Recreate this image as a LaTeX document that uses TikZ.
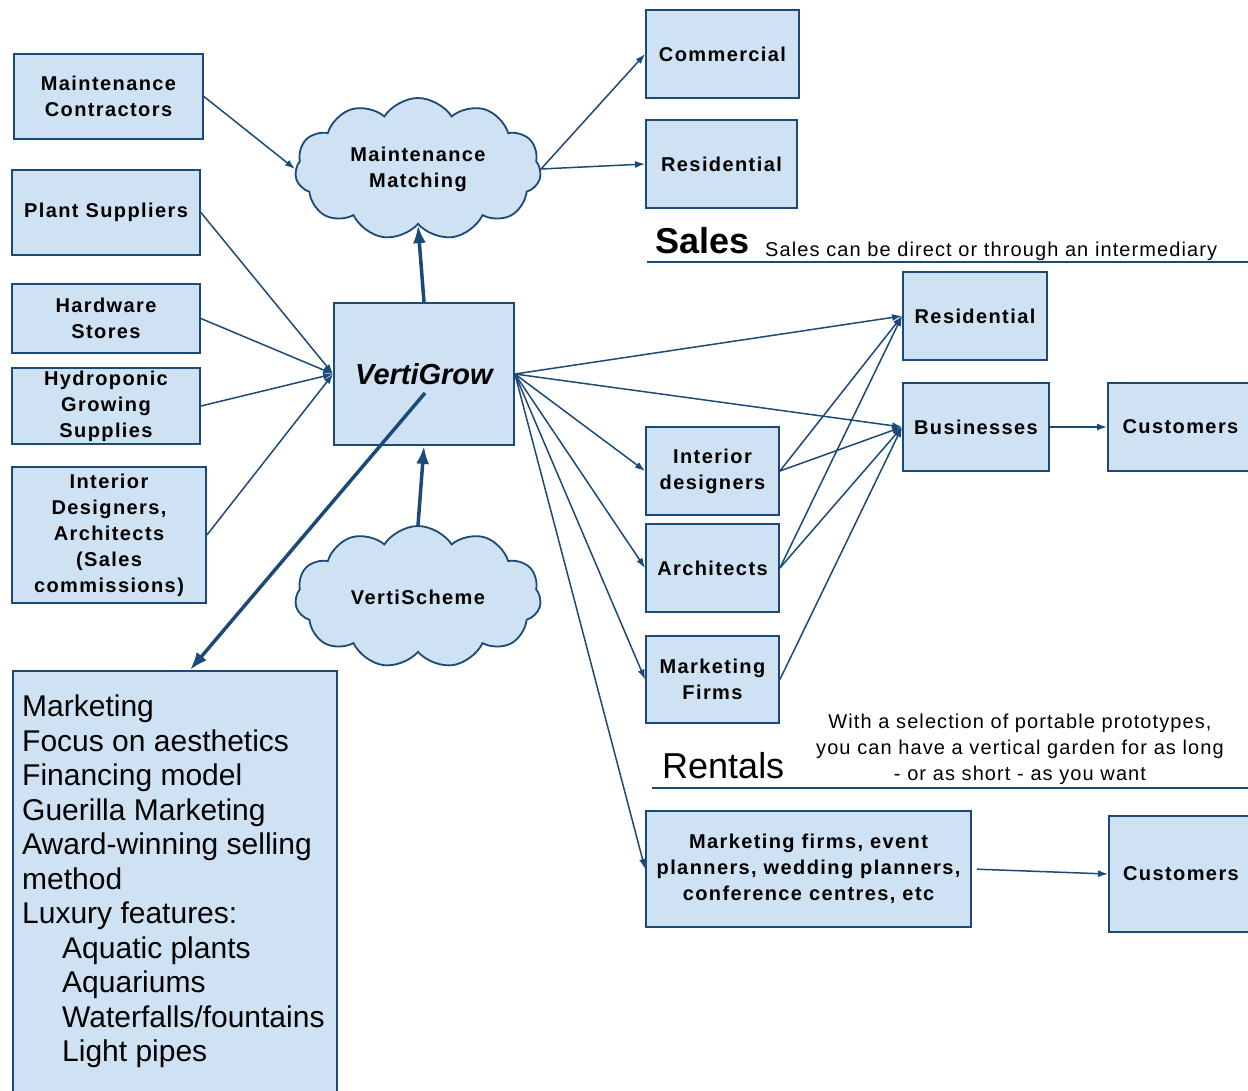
\documentclass[tikz,border=0pt]{standalone}
\usepackage{fontspec}
\setmainfont{Liberation Sans}
\newfontfamily\lblfont{Liberation Sans}[LetterSpace=7]
\newfontfamily\notefont{Liberation Sans}[LetterSpace=5.5]
\usetikzlibrary{shapes.symbols,arrows.meta}
\definecolor{boxfill}{HTML}{CFE2F3}
\definecolor{boxline}{HTML}{1B4A78}
\begin{document}
\begin{tikzpicture}[x=1pt,y=-1pt,
  box/.style={draw=boxline, fill=boxfill, line width=1.8pt, inner sep=0pt, align=center,
    font={\lblfont\bfseries\fontsize{20}{26}\selectfont}},
  bx/.style 2 args={minimum width=#1, minimum height=#2},
  cloudy/.style={cloud, cloud puffs=11, cloud puff arc=115, aspect=1.65, draw=boxline, fill=boxfill,
    line width=1.8pt, inner sep=0pt, align=center, minimum width=246, minimum height=142,
    font={\lblfont\bfseries\fontsize{20}{26}\selectfont}},
  arr/.style={draw=boxline, line width=1.5pt, -{Latex[length=10pt,width=7pt]}},
  thickarr/.style={draw=boxline, line width=3.5pt, -{Latex[length=18pt,width=13pt]}},
  plain/.style={inner sep=0pt, text=black}
]
\useasboundingbox (0,0) rectangle (1248,1090);

% left column
\node[box,bx={189}{85}] (mc) at (108.5,96.5) {Maintenance\\Contractors};
\node[box,bx={188}{85}] (ps) at (106,212.5) {Plant Suppliers};
\node[box,bx={188}{69}] (hw) at (106,318.5) {Hardware\\Stores};
\node[box,bx={188}{76}] (hy) at (106,406) {Hydroponic\\Growing\\Supplies};
\node[box,bx={194}{136}] (idl) at (109,535) {Interior\\Designers,\\Architects\\(Sales\\commissions)};

% centre
\node[box,bx={180}{142},font={\bfseries\itshape\fontsize{29}{34}\selectfont}] (vg) at (424,374) {VertiGrow};
\node[cloudy] (mm) at (418,169) {Maintenance\\Matching};
\node[cloudy] (vs) at (418,597) {VertiScheme};

% maintenance targets
\node[box,bx={153}{88}] (com) at (722.5,54) {Commercial};
\node[box,bx={151}{88}] (res1) at (721.5,164) {Residential};

% sales
\node[plain, anchor=base west, font={\bfseries\fontsize{36}{40}\selectfont}] (sales) at (655,253) {Sales};
\node[plain, anchor=base west, font={\notefont\fontsize{20}{24}\selectfont}] (salesnote) at (765,256) {Sales can be direct or through an intermediary};
\draw[boxline, line width=1.5pt] (647,262) -- (1250,262);

\node[box,bx={144}{88}] (res2) at (975,316) {Residential};
\node[box,bx={146}{88}] (bus) at (976,427) {Businesses};
\node[box,bx={145}{88}] (cus1) at (1180.5,427) {Customers};
\node[box,bx={133}{88}] (idz) at (712.5,471) {Interior\\designers};
\node[box,bx={133}{88}] (arch) at (712.5,568) {Architects};
\node[box,bx={133}{87}] (mf) at (712.5,679.5) {Marketing\\Firms};

% rentals
\node[plain, anchor=base west, font={\fontsize{36}{40}\selectfont}] (rentals) at (662,778) {Rentals};
\node[plain, align=center, font={\notefont\fontsize{20}{26}\selectfont}] (rentnote) at (1020,749)
  {With a selection of portable prototypes,\\you can have a vertical garden for as long\\- or as short - as you want};
\draw[boxline, line width=1.5pt] (652,788) -- (1250,788);
\node[box,bx={325}{116}] (rent) at (808.5,869) {Marketing firms, event\\planners, wedding planners,\\conference centres, etc};
\node[box,bx={144}{116}] (cus2) at (1181,874) {Customers};

% marketing list
\node[box, anchor=north west, bx={324}{430}] (mkt) at (12,670) {};
\node[plain, anchor=north west, align=left, font={\fontsize{30}{34.5}\selectfont}] (mkttxt) at (22,695)
  {Marketing\\Focus on aesthetics\\Financing model\\Guerilla Marketing\\Award-winning selling\\method\\Luxury features:\\
   \hspace*{40pt}Aquatic plants\\\hspace*{40pt}Aquariums\\\hspace*{40pt}Waterfalls/fountains\\\hspace*{40pt}Light pipes};

% coordinates
\coordinate (vgin) at (425,393);
\path (mkt.north west) ++(178,0) coordinate (mkttop);

% connectors
\draw[arr] (mc.east) -- (mm.west);
\draw[arr] (ps.east) -- (vg.west);
\draw[arr] (hw.east) -- (vg.west);
\draw[arr] (hy.east) -- (vg.west);
\draw[arr] (idl.east) -- (vg.west);
\draw[thickarr] (vg.north) -- (mm.south);
\draw[thickarr] (vs.north) -- (vg.south);
\draw[thickarr] (vgin) -- (mkttop);
\draw[arr] (mm.east) -- (com.west);
\draw[arr] (mm.east) -- (res1.west);
\draw[arr] (vg.east) -- (res2.west);
\draw[arr] (vg.east) -- (bus.west);
\draw[arr] (vg.east) -- (idz.west);
\draw[arr] (vg.east) -- (arch.west);
\draw[arr] (vg.east) -- (mf.west);
\draw[arr] (vg.east) -- (rent.west);
\draw[arr] (idz.east) -- (res2.west);
\draw[arr] (idz.east) -- (bus.west);
\draw[arr] (arch.east) -- (res2.west);
\draw[arr] (arch.east) -- (bus.west);
\draw[arr] (mf.east) -- (bus.west);
\draw[arr] (bus.east) -- (cus1.west);
\draw[arr, shorten <=5pt] (rent.east) -- (cus2.west);
\end{tikzpicture}
\end{document}
